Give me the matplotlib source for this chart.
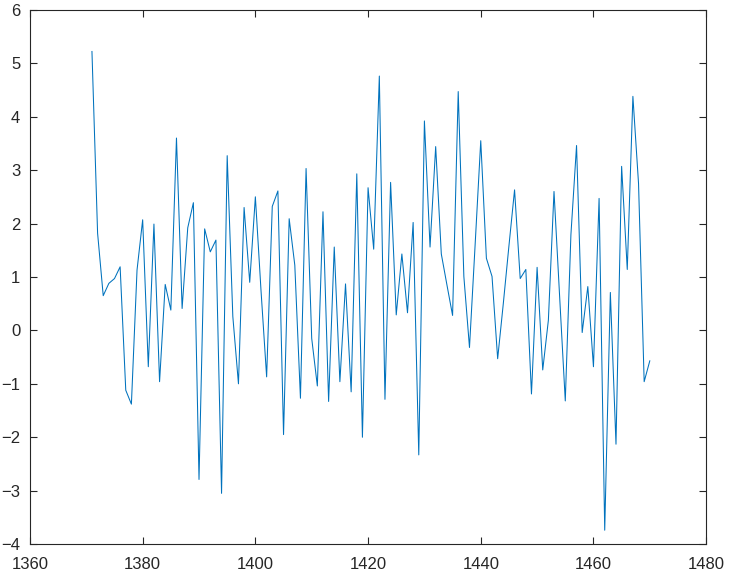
import matplotlib
matplotlib.use("Agg")
import matplotlib.pyplot as plt
import numpy as np

# years and values
years = np.arange(1371, 1471)
values = [
    5.22, 1.82, 0.65, 0.88, 0.97, 1.19, -1.12, -1.38, 1.13, 2.07,
    -0.68, 1.99, -0.96, 0.86, 0.38, 3.60, 0.41, 1.92, 2.39, -2.79,
    1.90, 1.47, 1.69, -3.05, 3.27, 0.26, -1.00, 2.30, 0.90, 2.50,
    0.75, -0.87, 2.32, 2.61, -1.95, 2.09, 1.22, -1.27, 3.03, -0.15,
    -1.04, 2.22, -1.33, 1.56, -0.96, 0.87, -1.15, 2.93, -2.00, 2.67,
    1.52, 4.76, -1.29, 2.77, 0.29, 1.43, 0.33, 2.02, -2.33, 3.92,
    1.56, 3.44, 1.43, 0.85, 0.28, 4.47, 1.01, -0.32, 1.60, 3.55,
    1.35, 1.01, -0.53, 0.50, 1.58, 2.63, 0.97, 1.14, -1.19, 1.18,
    -0.74, 0.19, 2.60, 0.63, -1.32, 1.79, 3.46, -0.04, 0.82, -0.68,
    2.47, -3.74, 0.71, -2.13, 3.07, 1.14, 4.38, 2.75, -0.96, -0.57,
]
xticks = [1360, 1380, 1400, 1420, 1440, 1460, 1480]
yticks = [-4, -3, -2, -1, 0, 1, 2, 3, 4, 5, 6]

plt.rcParams['font.family'] = ['Liberation Sans', 'DejaVu Sans']

fig = plt.figure(figsize=(7.31, 5.77), dpi=100)
ax = fig.add_axes([0.041, 0.057, 0.925, 0.926])
ax.plot(years, values, color='#0072BD', linewidth=0.75)

ax.set_xlim(1360, 1480)
ax.set_ylim(-4, 6)
ax.set_xticks(xticks)
ax.set_yticks(yticks)
ax.tick_params(direction='in', length=5, width=0.8, colors='#262626',
               labelsize=12, top=True, right=True)
ax.tick_params(axis='x', pad=9)
ax.tick_params(axis='y', pad=7)
for s in ax.spines.values():
    s.set_color('#262626')
    s.set_linewidth(0.8)

fig.savefig('out.png', dpi=100, facecolor='white')
